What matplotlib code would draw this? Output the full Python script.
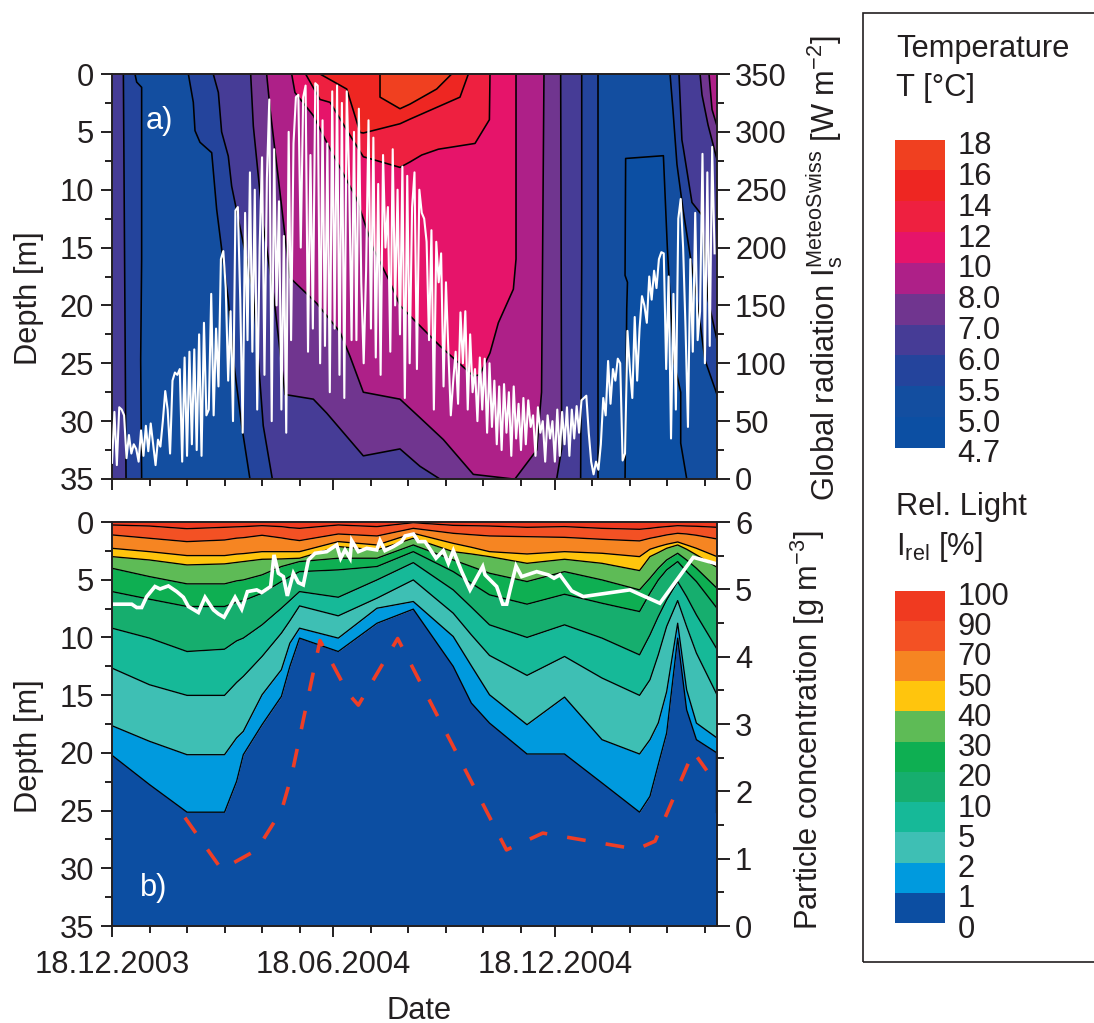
from __future__ import annotations

import matplotlib

matplotlib.use("Agg")
import matplotlib.pyplot as plt
import numpy as np
from matplotlib.patches import Rectangle

plt.rcParams["font.family"] = ["Liberation Sans", "DejaVu Sans"]
plt.rcParams["mathtext.fontset"] = "custom"
plt.rcParams["mathtext.rm"] = "Liberation Sans"
plt.rcParams["mathtext.default"] = "regular"

INK = "#231F20"
FONT = 22.2
W, H = 1094, 1023

# x axis, days since 18.12.2003
X_MAX = 500
MINOR_DAYS = [31, 62, 93, 124, 155, 214, 245, 276, 307, 338, 397, 428, 459, 490]
MAJOR_DAYS = [0, 183, 366]
MAJOR_DATES = ["18.12.2003", "18.06.2004", "18.12.2004"]

# panel a, isotherms as (day, depth)
t6_left_day = [9.4, 11.6]
t6_left_depth = [0, 35]
t55_left_day = [19, 20.4, 24.5, 24.5, 23.7, 24.5]
t55_left_depth = [0, 0.7, 1.15, 16, 24.7, 35]

t55_mid_day = [63.1, 67.2, 68.6, 72.7, 82.4, 86.5, 90.6, 96.1, 100.3, 107.2, 114]
t55_mid_depth = [0, 2.45, 4.9, 5.9, 6.8, 11.7, 15.1, 19.5, 24.7, 30.4, 35]
t55_back_day = [402, 402]
t55_back_depth = [35, 0]

t6_mid_day = [83.7, 87.9, 90.6, 96.1, 98.9, 110, 116.8, 125, 132.5]
t6_mid_depth = [0, 1.6, 5, 7.1, 9.7, 15.4, 18.9, 30.4, 35]
t6_back_day = [387.3, 388.2, 388.2]
t6_back_depth = [35, 16, 0]

t7_mid_day = [114.6, 116.8, 125, 133.3, 143, 166.4, 177.4, 207.7, 238, 254.5, 271]
t7_mid_depth = [0, 4.5, 13.1, 18.9, 27.7, 28.1, 29.3, 33, 32.4, 33.9, 35]
t7_back_day = [367.5, 371.6, 370.8]
t7_back_depth = [35, 32.4, 0]

t8_day = [127.8, 130.6, 138.8, 147, 169, 188.4, 196.7, 207.7, 238, 254.5, 273.9, 298.6,
          331.7, 333, 351, 355, 357]
t8_depth = [0, 3, 10.2, 17.6, 19.8, 22.3, 24.4, 27.5, 28.1, 29.7, 31.6, 34.6,
            35, 35, 32.5, 27.5, 0]

t10_day = [148.5, 151.2, 166.4, 177.4, 202.2, 216, 229.8, 238, 246.3, 271, 298.6, 304,
           312.4, 319.3, 331.7, 333.9, 333.9]
t10_depth = [0, 1.6, 3.6, 5.9, 10.8, 15.1, 18, 20, 20.9, 23.5, 26.1, 26,
             24.1, 21.5, 18.6, 16, 0]

t12_day = [160, 171.9, 180.2, 196.7, 207.7, 238, 246.3, 256, 269.7, 300, 311.9, 312.4]
t12_depth = [0, 2.2, 2.45, 5.3, 7.15, 8.07, 7.6, 7, 6.5, 6, 3.95, 0]

t14_day = [171.9, 194, 205, 207.7, 238, 246.3, 287.6, 294.5]
t14_depth = [0, 1.3, 5.05, 5.1, 4.3, 3.9, 2, 0]

t16_day = [221.5, 221.5, 238, 246.3, 268.3, 280.7]
t16_depth = [0, 2, 3, 2.6, 1.3, 0]

t5_day = [424, 425.4, 426, 424, 424.5, 455.7, 459, 464, 470, 470, 475]
t5_depth = [35, 20.3, 18, 17.4, 7.3, 7.06, 15.1, 24.7, 27.5, 31.9, 35]

t55_right_day = [461.2, 463.6, 466.9, 471.9, 483.5, 490, 500]
t55_right_depth = [0, 3.1, 7.8, 11.7, 19.5, 24.7, 27.7]
t6_right_day = [468.6, 471, 472, 479.3, 487.6, 488.4, 492.6, 500]
t6_right_depth = [0, 5.7, 6.3, 11.1, 12.2, 13.5, 19.5, 23]
t7_right_day = [486, 487.6, 492.6, 500]
t7_right_depth = [0, 1.8, 4.4, 7.4]
t8_right_day = [493.4, 495.9, 500]
t8_right_depth = [0, 3.07, 4.5]

TEMP_LABELS = ["18", "16", "14", "12", "10", "8.0", "7.0", "6.0", "5.5", "5.0", "4.7"]
TEMP_COLORS = ["#F04020", "#EE2622", "#EE2040", "#E6146A", "#AE2088", "#70358F",
               "#463C96", "#24449C", "#134EA0", "#0C4FA3"]

# global radiation, one value every 2 days [W m-2]
radiation = [
    14, 58, 12, 62, 60, 55, 18, 38, 22, 30, 26, 15, 42, 20, 46, 24, 48, 30, 12, 34,
    28, 50, 76, 60, 22, 85, 92, 90, 95, 15, 105, 20, 110, 30, 112, 25, 125, 20, 135, 55,
    60, 160, 55, 130, 80, 190, 197, 165, 85, 145, 50, 232, 235, 155, 40, 230, 120, 265, 110, 250,
    60, 200, 278, 90, 260, 328, 50, 285, 150, 240, 60, 210, 40, 300, 120, 290, 330, 332, 200, 330,
    340, 110, 280, 130, 342, 340, 100, 310, 115, 290, 75, 335, 130, 340, 90, 325, 70, 335, 260, 120,
    300, 120, 320, 170, 100, 180, 310, 130, 295, 105, 255, 90, 280, 200, 235, 110, 285, 150, 250, 125,
    270, 70, 262, 100, 235, 265, 95, 250, 230, 225, 205, 120, 215, 60, 205, 170, 195, 80, 170, 110,
    55, 85, 110, 65, 144, 100, 145, 60, 125, 75, 95, 50, 105, 60, 104, 40, 100, 45, 85, 30,
    80, 25, 82, 40, 75, 20, 80, 35, 65, 25, 70, 30, 68, 45, 55, 20, 62, 40, 50, 15,
    55, 35, 50, 15, 60, 20, 58, 30, 62, 20, 60, 35, 63, 40, 68, 70, 72, 40, 15, 4,
    15, 8, 30, 70, 55, 102, 65, 95, 85, 104, 100, 16, 22, 128, 95, 70, 140, 85, 130, 158,
    150, 135, 175, 155, 180, 165, 190, 196, 195, 95, 175, 35, 160, 60, 225, 242, 200, 130, 45, 190,
    110, 230, 120, 145, 281, 100, 265, 115, 287, 195,
]

# panel b, depth of each light level per profile
light_days = [0, 31, 62, 93, 103, 108.5, 124, 140, 147, 155, 187, 219, 249, 282, 297, 312, 343, 374,
              405, 436, 444.6, 451.5, 458.4, 467.5, 474.9, 483, 500]
light_90 = [.26, .35, .58, .46, .42, .40, .32, .40, .49, .55, .26, .40, .06, .29, .32, .35, .46, .40,
            .55, .63, .55, .46, .40, .32, .35, .37, .46]
light_70 = [1.12, 1.41, 1.70, 1.56, 1.4, 1.36, 1.15, 1.38, 1.5, 1.61, 1.04, 1.21, .55, .98, 1.10, 1.21,
            1.27, 1.33, 1.50, 1.64, 1.41, 1.27, 1.12, .98, 1.04, 1.15, 1.47]
light_50 = [2.28, 2.57, 2.91, 2.91, 2.78, 2.74, 2.57, 2.57, 2.57, 2.57, 1.70, 1.99, .98, 1.85, 2.19, 2.57,
            2.77, 2.57, 2.71, 3.00, 2.36, 2.13, 1.93, 1.73, 1.99, 2.28, 3.00]
light_40 = [3.00, 3.29, 3.72, 3.63, 3.5, 3.43, 3.23, 3.20, 3.17, 3.14, 2.13, 2.42, 1.41, 2.57, 2.77, 3.00,
            3.58, 3.23, 3.58, 4.21, 3.0, 2.65, 2.28, 1.99, 2.36, 2.85, 3.92]
light_30 = [4.01, 4.73, 5.36, 5.36, 5.1, 5.02, 4.58, 3.86, 3.66, 3.43, 3.14, 3.14, 1.99, 3.29, 3.86, 4.44,
            5.16, 4.30, 5.02, 5.88, 4.87, 4.01, 3.29, 2.71, 3.29, 4.01, 5.74]
light_20 = [6.03, 6.69, 7.32, 7.32, 6.95, 6.81, 6.17, 5.16, 4.73, 4.30, 4.15, 3.86, 2.57, 4.30, 5.31, 6.31,
            7.12, 6.26, 7.04, 7.76, 6.17, 5.02, 4.15, 3.43, 4.3, 5.16, 7.47]
light_10 = [9.20, 10.06, 11.22, 11.02, 10.3, 10.06, 8.91, 7.47, 6.8, 6.03, 6.52, 5.02, 3.52, 5.88, 7.38, 8.91,
            10.0, 8.91, 10.06, 11.51, 9.78, 8.19, 6.75, 5.16, 6.46, 8.05, 11.02]
light_5 = [12.66, 14.10, 15.02, 15.02, 13.9, 13.38, 11.65, 9.63, 8.56, 7.27, 8.13, 6.60, 5.02, 7.90, 9.78, 11.56,
           13.29, 11.65, 13.52, 15.02, 13.67, 11.5, 9.05, 6.81, 9.05, 11.36, 14.97]
light_2 = [17.65, 19.0, 20.16, 20.16, 18.7, 18.14, 14.97, 12.80, 10.5, 9.20, 10.06, 7.47, 6.89, 9.92, 12.46, 14.97,
           17.56, 15.17, 18.86, 20.10, 18.86, 17.4, 14.7, 8.77, 14.53, 17.42, 18.71]
light_1 = [20.21, 22.75, 25.14, 25.14, 22.46, 20.16, 17.56, 15.11, 12.51, 10.06, 11.22, 8.77, 7.55, 12.51, 15.69, 17.42,
           20.10, 20.10, 22.61, 25.14, 23.76, 21.0, 18.28, 10.06, 16.26, 18.86, 20.01]
edge_day = [499, 499]
edge_depth = [20.0, 25.1]

LIGHT_LABELS = ["100", "90", "70", "50", "40", "30", "20", "10", "5", "2", "1", "0"]
LIGHT_COLORS = ["#F03A20", "#F35124", "#F68522", "#FFC50D", "#5EBB56", "#0EAF52",
                "#16AE6E", "#16B998", "#3EBFB4", "#009ADE", "#0C4EA2"]

# white line in panel b
white_day = [0, 16.3, 20.4, 24.5, 28.7, 35.5, 39.7, 46.6, 53.5, 59, 63.1, 71.4, 76.9, 83.8, 87.9, 92.6,
             101.7, 107.2, 111.9, 119.6, 123.7, 131.1, 133.9, 137.5, 141.6, 144.9, 149.9, 154, 158.1,
             162.3, 167.8, 177.4, 185.7, 189, 192.6, 196.7, 198.1, 203.6, 210.5, 218.8, 221.5, 225.6,
             232.5, 239.4, 242.2, 249.1, 253.2, 258.7, 267.8, 273.8, 278, 282.1, 289, 295.9, 306.4,
             308.3, 317.9, 322.9, 326.2, 329, 333.9, 338.6, 351, 360.6, 365.3, 370.2, 379.9, 389.5,
             428, 452.8, 480.4, 498.3]
white_depth = [7.12, 7.12, 7.41, 7.41, 6.46, 5.59, 5.80, 5.54, 6.03, 6.52, 7.32, 7.84, 6.52, 7.61, 7.96, 8.25,
               6.52, 7.55, 6.03, 5.88, 6.11, 5.59, 2.85, 4.44, 4.73, 6.40, 4.44, 5.25,
               5.45, 3.29, 2.71, 2.57, 1.99, 3.14, 2.42, 3.14, 1.61, 2.57, 2.28, 2.42, 1.61, 2.48,
               2.13, 1.70, 1.21, 1.04, 1.70, 1.70, 3.14, 2.48, 3.58, 2.48, 4.30, 5.88, 3.86,
               4.58, 5.59, 7.12, 7.12, 5.88, 3.81, 4.73, 4.30, 4.58, 4.87, 4.58, 5.97, 6.46,
               5.88, 7.04, 3.06, 3.58]

# particle concentration [g m-3]
particle_day = [60.3, 90.6, 119.6, 140.2, 148.5, 171.9, 195.3, 203.6, 236.1, 326, 356, 433.6, 448.8, 480.4, 491.5]
particle_conc = [1.61, 0.84, 1.13, 1.72, 2.24, 4.24, 3.45, 3.28, 4.27, 1.13, 1.38, 1.14, 1.26, 2.59, 2.31]


def make_axes(fig, top: float, bottom: float, left: float = 112, right: float = 717):
    return fig.add_axes([left / W, 1 - bottom / H, (right - left) / W, (bottom - top) / H])


def style_main(ax, show_labels: bool) -> None:
    ax.set_xlim(0, X_MAX)
    ax.set_ylim(35, 0)
    ax.set_xticks(MAJOR_DAYS)
    ax.set_xticks(MINOR_DAYS, minor=True)
    ax.set_xticklabels(MAJOR_DATES if show_labels else [])
    ax.set_yticks(range(0, 36, 5))
    ax.set_yticks(np.arange(2.5, 35, 5), minor=True)
    ax.tick_params(which="major", length=8, width=1.4, colors=INK, labelsize=FONT, pad=5)
    ax.tick_params(which="minor", length=5, width=1.4, colors=INK)
    ax.tick_params(axis="x", which="major", pad=9)
    for spine in ax.spines.values():
        spine.set_linewidth(1.4)
        spine.set_color(INK)


def style_right(ax, top: float, step: float) -> None:
    ax.set_ylim(0, top)
    ax.set_yticks(np.arange(0, top + step, step))
    ax.set_yticks(np.arange(step / 2, top, step), minor=True)
    ax.tick_params(which="major", length=9, width=1.4, colors=INK, labelsize=FONT, pad=4)
    ax.tick_params(which="minor", length=5, width=1.4, colors=INK)
    for spine in ax.spines.values():
        spine.set_visible(False)


def draw_temperature(ax) -> None:
    ax.set_facecolor(TEMP_COLORS[8])

    # warmer regions painted over colder ones
    regions = [
        (TEMP_COLORS[7], [0] + t55_left_day + [0], [0] + t55_left_depth + [35]),
        (TEMP_COLORS[6], [0] + t6_left_day + [0], [0] + t6_left_depth + [35]),
        (TEMP_COLORS[7], t55_mid_day + t55_back_day, t55_mid_depth + t55_back_depth),
        (TEMP_COLORS[6], t6_mid_day + t6_back_day, t6_mid_depth + t6_back_depth),
        (TEMP_COLORS[5], t7_mid_day + t7_back_day, t7_mid_depth + t7_back_depth),
        (TEMP_COLORS[4], t8_day, t8_depth),
        (TEMP_COLORS[3], t10_day, t10_depth),
        (TEMP_COLORS[2], t12_day, t12_depth),
        (TEMP_COLORS[1], t14_day, t14_depth),
        (TEMP_COLORS[0], t16_day, t16_depth),
        (TEMP_COLORS[9], t5_day, t5_depth),
        (TEMP_COLORS[7], t55_right_day + [X_MAX], t55_right_depth + [0]),
        (TEMP_COLORS[6], t6_right_day + [X_MAX], t6_right_depth + [0]),
        (TEMP_COLORS[5], t7_right_day + [X_MAX], t7_right_depth + [0]),
        (TEMP_COLORS[4], t8_right_day + [X_MAX], t8_right_depth + [0]),
    ]
    for color, xs, ys in regions:
        ax.fill(xs, ys, color=color, linewidth=0)

    lines = [
        (t6_left_day, t6_left_depth), (t55_left_day, t55_left_depth),
        (t55_mid_day, t55_mid_depth), (t55_back_day, t55_back_depth),
        (t6_mid_day, t6_mid_depth), (t6_back_day, t6_back_depth),
        (t7_mid_day, t7_mid_depth), (t7_back_day, t7_back_depth),
        (t8_day, t8_depth), (t10_day, t10_depth), (t12_day, t12_depth),
        (t14_day, t14_depth), (t16_day, t16_depth), (t5_day, t5_depth),
        (t55_right_day, t55_right_depth), (t6_right_day, t6_right_depth),
        (t7_right_day, t7_right_depth), (t8_right_day, t8_right_depth),
    ]
    for xs, ys in lines:
        ax.plot(xs, ys, color="black", linewidth=1.15)


def draw_light(ax) -> None:
    levels = [light_90, light_70, light_50, light_40, light_30, light_20,
              light_10, light_5, light_2, light_1]
    upper = [0] * len(light_days)
    for color, lower in zip(LIGHT_COLORS, levels + [[35] * len(light_days)]):
        ax.fill_between(light_days, upper, lower, color=color, linewidth=0)
        upper = lower
    for level in levels:
        ax.plot(light_days, level, color="black", linewidth=0.95)
    ax.plot(edge_day, edge_depth, color="black", linewidth=0.95)


def draw_scale(fig, top: float, bottom: float, colors: list[str], labels: list[str]) -> None:
    ax = make_axes(fig, top, bottom, left=895, right=945)
    count = len(colors)
    ax.bar(0, [1] * count, bottom=np.arange(count)[::-1], width=1, color=colors, linewidth=0)
    ax.set_xlim(-0.5, 0.5)
    ax.set_ylim(0, count)
    ax.set_xticks([])
    ax.set_yticks(np.arange(len(labels))[::-1] - 0.1)
    ax.set_yticklabels(labels)
    ax.yaxis.tick_right()
    ax.tick_params(length=0, labelsize=FONT, labelcolor=INK, pad=9)
    for spine in ax.spines.values():
        spine.set_visible(False)


def put_text(fig, x: float, y: float, text: str, **kwargs) -> None:
    fig.text(x / W, 1 - y / H, text, fontsize=FONT, color=INK, va="center", **kwargs)


def main() -> None:
    fig = plt.figure(figsize=(W / 100, H / 100), dpi=100, facecolor="white")

    ax_a = make_axes(fig, 74, 479)
    draw_temperature(ax_a)
    style_main(ax_a, False)
    ax_a.text(0.055, 0.865, "a)", transform=ax_a.transAxes, color="white", fontsize=FONT, zorder=6)
    ax_rad = ax_a.twinx()
    ax_rad.plot(np.arange(0, X_MAX, 2), radiation, color="white", linewidth=1.5)
    style_right(ax_rad, 350, 50)

    ax_b = make_axes(fig, 522, 926)
    draw_light(ax_b)
    style_main(ax_b, True)
    ax_b.plot(white_day, white_depth, color="white", linewidth=2.6, solid_joinstyle="miter")
    ax_b.text(0.046, 0.075, "b)", transform=ax_b.transAxes, color="white", fontsize=FONT, zorder=6)
    ax_conc = ax_b.twinx()
    ax_conc.plot(particle_day, particle_conc, color="#EF3E26", linewidth=2.6, dashes=(5.2, 5.6))
    style_right(ax_conc, 6, 1)

    put_text(fig, 29, 298, "Depth [m]", rotation=90, ha="center")
    put_text(fig, 29, 746, "Depth [m]", rotation=90, ha="center")
    put_text(fig, 419, 1011, "Date", ha="center")
    put_text(fig, 825, 268, r"Global radiation $I_s^{MeteoSwiss}$ [W m$^{-2}$]", rotation=90, ha="center")
    put_text(fig, 808, 730, r"Particle concentration [g m$^{-3}$]", rotation=90, ha="center")

    # legend frame, open at the right edge
    fig.add_artist(Rectangle((862.5 / W, 1 - 962 / H), 260 / W, 949 / H, transform=fig.transFigure,
                             fill=False, edgecolor=INK, linewidth=1.2, clip_on=True))

    put_text(fig, 896, 49, "Temperature")
    put_text(fig, 896, 88, "T [°C]")
    put_text(fig, 896, 507, "Rel. Light")
    put_text(fig, 896, 547, r"$I_{rel}$ [%]")
    draw_scale(fig, 139.5, 451, TEMP_COLORS, TEMP_LABELS)
    draw_scale(fig, 590.5, 926, LIGHT_COLORS, LIGHT_LABELS)

    fig.savefig("out.png", dpi=100)
    plt.close(fig)


if __name__ == "__main__":
    main()
